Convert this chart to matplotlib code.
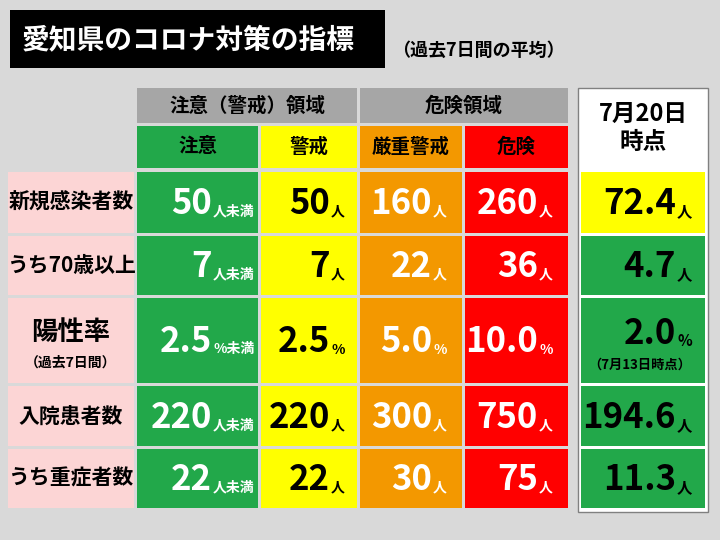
import matplotlib
matplotlib.use("Agg")
import matplotlib.pyplot as plt
from matplotlib.patches import Rectangle

plt.rcParams["font.family"] = "Noto Sans CJK JP"

title = "愛知県のコロナ対策の指標"
subtitle = "（過去7日間の平均）"
group_labels = ["注意（警戒）領域", "危険領域"]
level_labels = ["注意", "警戒", "厳重警戒", "危険"]
current_label = "7月20日\n時点"
row_labels = ["新規感染者数", "うち70歳以上", "陽性率", "入院患者数", "うち重症者数"]
row_sublabels = ["", "", "（過去7日間）", "", ""]
threshold_values = [
    ["50", "50", "160", "260"],
    ["7", "7", "22", "36"],
    ["2.5", "2.5", "5.0", "10.0"],
    ["220", "220", "300", "750"],
    ["22", "22", "30", "75"],
]
units = ["人", "人", "%", "人", "人"]
current_values = ["72.4", "4.7", "2.0", "194.6", "11.3"]
current_notes = ["", "", "（7月13日時点）", "", ""]

GREEN, YELLOW, ORANGE, RED = "#22a84a", "#ffff00", "#f39800", "#ff0000"
PINK, GRAY, BG = "#fcd5d5", "#a6a6a6", "#d9d9d9"
col_colors = [GREEN, YELLOW, ORANGE, RED]
col_text = ["white", "black", "white", "white"]
cols = [(137, 258), (261, 357), (360, 462), (465, 568)]
num_end = [212, 330, 432, 538]
rows = [(172, 233), (236, 295), (298, 383), (386, 446), (449, 508)]

fig = plt.figure(figsize=(7.2, 5.4), dpi=100)
fig.patch.set_facecolor(BG)
ax = fig.add_axes([0, 0, 1, 1])
ax.set_xlim(0, 720); ax.set_ylim(540, 0); ax.axis("off")

def rect(x0, y0, x1, y1, fc, ec="none", lw=0):
    ax.add_patch(Rectangle((x0, y0), x1 - x0, y1 - y0, facecolor=fc, edgecolor=ec, linewidth=lw))

rect(10, 10, 385, 68, "black")
ax.text(22, 40, title, color="white", fontsize=20, fontweight="bold", va="center")
ax.text(392, 50, subtitle, color="black", fontsize=13, fontweight="bold", va="center")

rect(137, 88, 357, 123, GRAY)
rect(360, 88, 568, 123, GRAY)
ax.text(247, 106, group_labels[0], fontsize=14, fontweight="bold", ha="center", va="center")
ax.text(464, 106, group_labels[1], fontsize=14, fontweight="bold", ha="center", va="center")
for (x0, x1), c, lab in zip(cols, col_colors, level_labels):
    rect(x0, 126, x1, 168, c)
    ax.text((x0 + x1) / 2, 147, lab, fontsize=14, fontweight="bold", ha="center", va="center",
            color="black")

rect(578, 88, 708, 512, "white", ec="#808080", lw=1)
ax.text(643, 128, current_label, fontsize=17, fontweight="bold", ha="center", va="center",
        linespacing=1.2)

for i, (y0, y1) in enumerate(rows):
    yc = (y0 + y1) / 2
    rect(8, y0, 134, y1, PINK)
    if row_sublabels[i]:
        ax.text(71, yc - 8, row_labels[i], fontsize=19, fontweight="bold", ha="center", va="center")
        ax.text(71, yc + 22, row_sublabels[i], fontsize=10, fontweight="bold", ha="center", va="center")
    else:
        ax.text(71, yc, row_labels[i], fontsize=15, fontweight="bold", ha="center", va="center")
    for j, ((x0, x1), c) in enumerate(zip(cols, col_colors)):
        rect(x0, y0, x1, y1, c)
        ax.text(num_end[j], yc + 1, threshold_values[i][j], fontsize=25, fontweight="bold",
                ha="right", va="center", color=col_text[j])
        u = units[i] + ("未満" if j == 0 else "")
        ax.text(num_end[j] + 1, yc + 9, u, fontsize=10, fontweight="bold",
                ha="left", va="center", color=col_text[j])
    cc = YELLOW if i == 0 else GREEN
    rect(581, y0, 705, y1, cc)
    ycv = yc - 8 if current_notes[i] else yc
    ax.text(676, ycv + 1, current_values[i], fontsize=25, fontweight="bold",
            ha="right", va="center", color="black")
    ax.text(677, ycv + 9, units[i], fontsize=11, fontweight="bold", ha="left", va="center")
    if current_notes[i]:
        ax.text(640, yc + 24, current_notes[i], fontsize=9.5, fontweight="bold", ha="center", va="center")

fig.savefig("out.png", dpi=100, facecolor=BG)
